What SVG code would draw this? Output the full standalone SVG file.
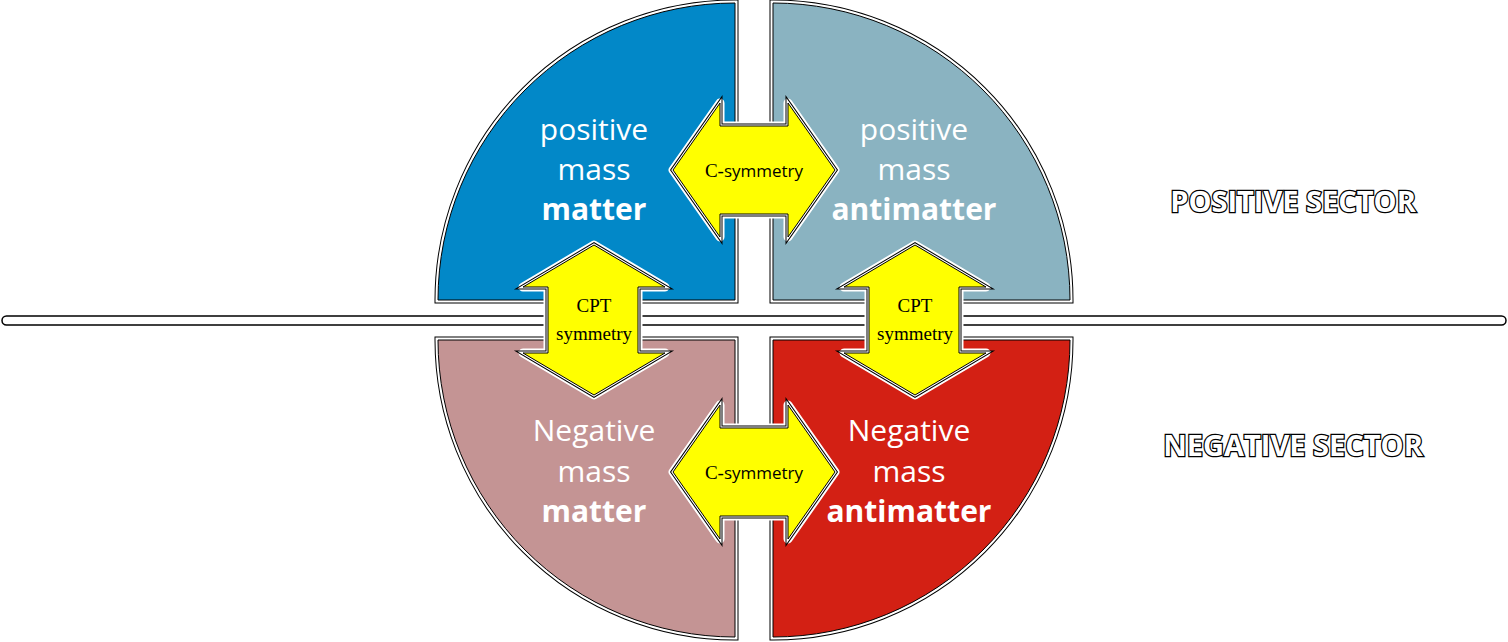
<svg xmlns="http://www.w3.org/2000/svg" width="1508" height="642" viewBox="0 0 1508 642">
<defs>
<style>
.o1{fill:none;stroke:#000;stroke-width:7;stroke-linejoin:miter}
.o2{fill:none;stroke:#fff;stroke-width:5;stroke-linejoin:miter}
.in{stroke:#000;stroke-width:1}
.lbl{font-family:"Open Sans","Liberation Sans",sans-serif;font-size:30px;fill:#fff;text-anchor:middle}
.b{font-weight:bold}
.sym{font-family:"Liberation Serif",serif;font-size:19px;fill:#000;text-anchor:middle}
.sec{font-family:"Open Sans","Liberation Sans",sans-serif;font-weight:bold;font-size:29px;fill:#fff;stroke:#000;stroke-width:2.5;paint-order:stroke;text-anchor:middle}
.a1{fill:none;stroke:#fff;stroke-width:9;stroke-linejoin:round}
.a2{fill:none;stroke:#000;stroke-width:5;stroke-linejoin:miter}
.a3{fill:none;stroke:#fff;stroke-width:3;stroke-linejoin:miter}
.af{fill:#ff0;stroke:#000;stroke-width:1}
</style>
<path id="q1" d="M735,300 L735,3 A297,297 0 0 0 438,300 Z"/>
<path id="q2" d="M773,300 L773,3 A297,297 0 0 1 1070,300 Z"/>
<path id="q3" d="M735,340 L735,637 A297,297 0 0 1 438,340 Z"/>
<path id="q4" d="M773,340 L773,637 A297,297 0 0 0 1070,340 Z"/>
<path id="ah" d="M673,170 L720,103 L720,126 L788,126 L788,103 L835,170 L788,237 L788,214 L720,214 L720,237 Z"/>
<path id="av" d="M594,245 L665,287 L638,287 L638,353 L665,353 L594,395 L523,353 L548,353 L548,287 L523,287 Z"/>
</defs>
<rect width="1508" height="642" fill="#fff"/>
<g id="axis">
<rect x="2" y="316" width="1504" height="9" rx="4.5" fill="#fff" stroke="#000" stroke-width="1.5"/>
</g>
<g id="matter-pos">
<use href="#q1" class="o1"/><use href="#q1" class="o2"/><use href="#q1" class="in" fill="#0288C8"/>
<text class="lbl" x="594" y="140">positive</text><text class="lbl" x="594" y="180">mass</text><text class="lbl b" x="594" y="220">matter</text>
</g>
<g id="antimatter-pos">
<use href="#q2" class="o1"/><use href="#q2" class="o2"/><use href="#q2" class="in" fill="#8AB3C1"/>
<text class="lbl" x="914" y="140">positive</text><text class="lbl" x="914" y="180">mass</text><text class="lbl b" x="914" y="220">antimatter</text>
</g>
<g id="matter-neg">
<use href="#q3" class="o1"/><use href="#q3" class="o2"/><use href="#q3" class="in" fill="#C49494"/>
<text class="lbl" x="594" y="441">Negative</text><text class="lbl" x="594" y="482">mass</text><text class="lbl b" x="594" y="522">matter</text>
</g>
<g id="antimatter-neg">
<use href="#q4" class="o1"/><use href="#q4" class="o2"/><use href="#q4" class="in" fill="#D32014"/>
<text class="lbl" x="909" y="441">Negative</text><text class="lbl" x="909" y="482">mass</text><text class="lbl b" x="909" y="522">antimatter</text>
</g>
<g id="connectors">
<g id="c-top"><use href="#ah" class="a1"/><use href="#ah" class="a2"/><use href="#ah" class="a3"/><use href="#ah" class="af"/>
<text class="sym" x="754" y="177">C-<tspan font-family="Liberation Sans Narrow, Open Sans, sans-serif" font-size="17">symmetry</tspan></text></g>
<g id="c-bot" transform="translate(0,302)"><use href="#ah" class="a1"/><use href="#ah" class="a2"/><use href="#ah" class="a3"/><use href="#ah" class="af"/>
<text class="sym" x="754" y="177">C-<tspan font-family="Liberation Sans Narrow, Open Sans, sans-serif" font-size="17">symmetry</tspan></text></g>
<g id="cpt-left"><use href="#av" class="a1"/><use href="#av" class="a2"/><use href="#av" class="a3"/><use href="#av" class="af"/>
<text class="sym" x="594" y="312">CPT</text><text class="sym" x="594" y="340" font-family="Liberation Sans Narrow, Open Sans, sans-serif" font-size="17">symmetry</text></g>
<g id="cpt-right" transform="translate(321,0)"><use href="#av" class="a1"/><use href="#av" class="a2"/><use href="#av" class="a3"/><use href="#av" class="af"/>
<text class="sym" x="594" y="312">CPT</text><text class="sym" x="594" y="340" font-family="Liberation Sans Narrow, Open Sans, sans-serif" font-size="17">symmetry</text></g>
</g>
<g id="sectors">
<text class="sec" x="1293" y="212">POSITIVE SECTOR</text>
<text class="sec" x="1293" y="456">NEGATIVE SECTOR</text>
</g>
</svg>
